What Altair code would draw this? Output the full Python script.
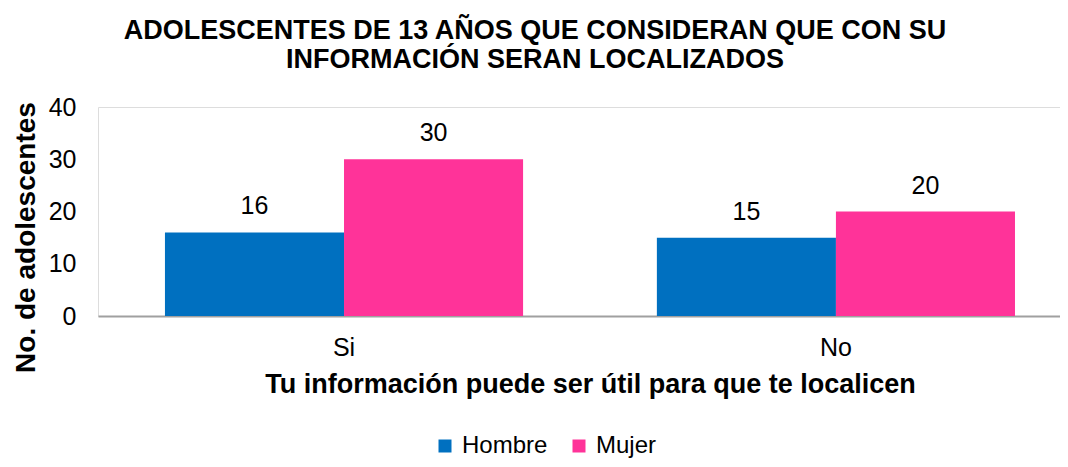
import altair as alt
import pandas as pd

categories = ["Si", "No"]
hombre = [16, 15]
mujer = [30, 20]
series = ["Hombre", "Mujer"]
colors = ["#0070C0", "#FF3399"]

rows = []
for i, c in enumerate(categories):
    rows.append({"cat": c, "sexo": "Hombre", "val": hombre[i]})
    rows.append({"cat": c, "sexo": "Mujer", "val": mujer[i]})
df = pd.DataFrame(rows)

FONT = "Liberation Sans"

x = alt.X("cat:N", sort=categories,
          scale=alt.Scale(paddingInner=0.272, paddingOuter=0.1138, align=0.598),
          axis=alt.Axis(title="Tu información puede ser útil para que te localicen",
                        labelAngle=0, labelFontSize=25, labelPadding=19, ticks=False,
                        grid=False,
                        domainColor="#A0A0A0", domainWidth=2, labelColor="#000000",
                        titleFontSize=27, titleFontWeight="bold", titleColor="#000000",
                        titlePadding=11, titleX=492, titleFont=FONT, labelFont=FONT))
xo = alt.XOffset("sexo:N", sort=series, scale=alt.Scale(paddingInner=0, paddingOuter=0))
y = alt.Y("val:Q", scale=alt.Scale(domain=[0, 40], nice=False),
          axis=alt.Axis(title="No. de adolescentes", values=[0, 10, 20, 30, 40],
                        grid=False, domain=False, ticks=False, labelFontSize=25,
                        labelPadding=22, labelColor="#000000", labelFont=FONT,
                        titleFontSize=28, titleFontWeight="bold", titleColor="#000000",
                        titleFont=FONT, titleAngle=270, titleX=-72, titleY=130,
                        titleAlign="center", titleBaseline="middle"))
color = alt.Color("sexo:N", sort=series,
                  scale=alt.Scale(domain=series, range=colors),
                  legend=alt.Legend(title=None, orient="none", legendX=335, legendY=327,
                                    direction="horizontal", symbolType="square",
                                    symbolSize=169, symbolStrokeWidth=0,
                                    labelFontSize=24, labelFont=FONT, labelColor="#000000",
                                    columnPadding=19, labelOffset=5, padding=0))

bars = alt.Chart(df).mark_bar().encode(x=x, xOffset=xo, y=y, color=color)
labels = alt.Chart(df).mark_text(baseline="bottom", dy=-13, fontSize=25, font=FONT,
                                 color="#000000").encode(
    x=alt.X("cat:N", sort=categories), xOffset=alt.XOffset("sexo:N", sort=series),
    y=alt.Y("val:Q"), text="val:Q")

chart = alt.layer(bars, labels).properties(
    width=962, height=209,
    autosize=alt.AutoSizeParams(type="none"),
    padding={"left": 90, "top": 99, "right": 0, "bottom": 142},
    title=alt.Title(["ADOLESCENTES DE 13 AÑOS QUE CONSIDERAN QUE CON SU",
                     "INFORMACIÓN SERAN LOCALIZADOS"],
                    fontSize=27, fontWeight="bold", font=FONT, color="#000000",
                    anchor="middle", dx=-44, lineHeight=29, offset=21)
).configure_view(stroke=None).configure_axis(grid=False).configure(background="white")

chart.save("out.html", embed_options={"renderer": "svg", "actions": False})
